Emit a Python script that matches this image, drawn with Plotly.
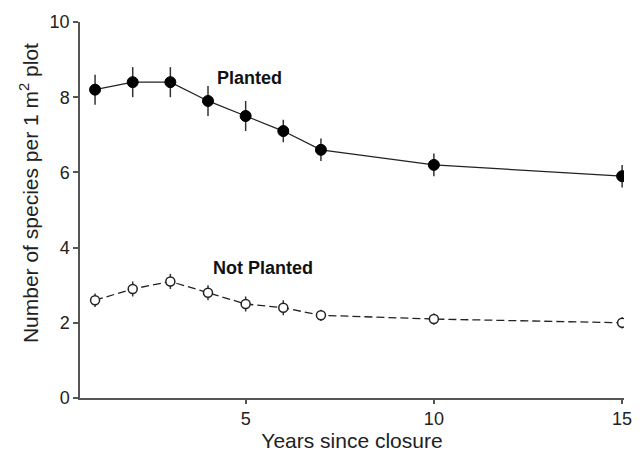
import plotly.graph_objects as go

years = [1, 2, 3, 4, 5, 6, 7, 10, 15]
planted = [8.2, 8.4, 8.4, 7.9, 7.5, 7.1, 6.6, 6.2, 5.9]
planted_err = [0.4, 0.4, 0.4, 0.4, 0.4, 0.3, 0.3, 0.3, 0.3]
not_planted = [2.6, 2.9, 3.1, 2.8, 2.5, 2.4, 2.2, 2.1, 2.0]
not_planted_err = [0.18, 0.2, 0.2, 0.2, 0.2, 0.2, 0.15, 0.15, 0.15]
y_ticks = [0, 2, 4, 6, 8, 10]
x_ticks = [5, 10, 15]

FONT = "Liberation Sans, Arial, sans-serif"

fig = go.Figure()
fig.add_trace(go.Scatter(
    x=years, y=planted, mode="lines+markers",
    line=dict(color="#222222", width=1.3),
    marker=dict(color="black", size=11, line=dict(color="black", width=1)),
    error_y=dict(type="data", array=planted_err, color="#333333", thickness=1.5, width=0),
    showlegend=False))
fig.add_trace(go.Scatter(
    x=years, y=not_planted, mode="lines+markers",
    line=dict(color="#222222", width=1.3, dash="8px,4px"),
    marker=dict(color="white", size=9, line=dict(color="#222222", width=1.5)),
    error_y=dict(type="data", array=not_planted_err, color="#333333", thickness=1.5, width=0),
    showlegend=False))

fig.add_annotation(x=5.1, y=8.52, text="<b>Planted</b>", showarrow=False,
                   font=dict(family=FONT, size=18, color="#111"))
fig.add_annotation(x=5.45, y=3.46, text="<b>Not Planted</b>", showarrow=False,
                   font=dict(family=FONT, size=18, color="#111"))
fig.add_annotation(xref="paper", x=0, xshift=-51, xanchor="center",
                   yref="y", y=5.45, yanchor="middle", textangle=-90,
                   text="Number of species per 1 m<sup>2</sup> plot", showarrow=False,
                   font=dict(family=FONT, size=21, color="#222"))

fig.update_layout(
    width=644, height=460,
    margin=dict(l=80, r=17, t=16, b=61),
    paper_bgcolor="white", plot_bgcolor="white",
    font=dict(family=FONT, size=18, color="#222"),
    xaxis=dict(range=[0.6, 15.05], tickvals=x_ticks, showgrid=False, zeroline=False,
               showline=True, linecolor="#555", linewidth=1.5,
               ticks="outside", ticklen=4, tickwidth=1.5, tickcolor="#555",
               title=dict(text="Years since closure", font=dict(size=21), standoff=4)),
    yaxis=dict(range=[0, 10], tickvals=y_ticks, showgrid=False, zeroline=False,
               showline=True, linecolor="#555", linewidth=1.5,
               ticks="outside", ticklen=5, tickwidth=1.5, tickcolor="#555"),
)

fig.write_html("out.html")
